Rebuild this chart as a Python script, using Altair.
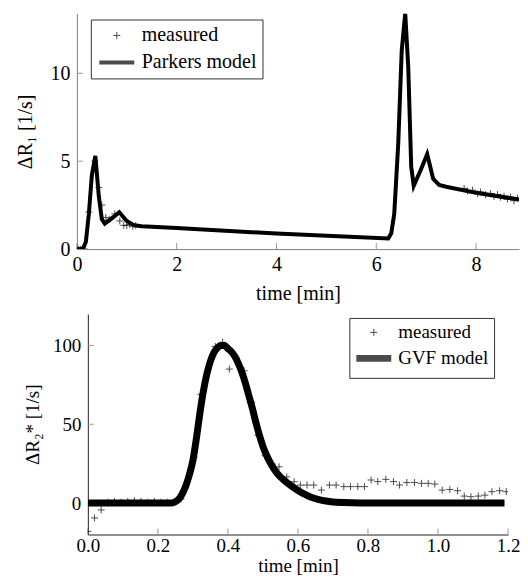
import altair as alt
import pandas as pd

FONT = "Liberation Serif, Times New Roman, serif"

# ---------- top panel: Parkers model ----------
top_meas_t = [0.03, 0.08, 0.16, 0.24, 0.36, 0.44, 0.50, 0.58, 0.66, 0.76, 0.86, 0.94, 1.00, 1.06, 1.12, 1.18,
              7.76, 7.83, 7.93, 8.03, 8.09, 8.19, 8.29, 8.36, 8.43, 8.49, 8.56, 8.63, 8.69, 8.76, 8.83, 8.89]
top_meas_y = [0, 0, 0, 2.1, 5.0, 3.5, 2.5, 1.8, 1.7, 2.0, 1.6, 1.35, 1.35, 1.4, 1.3, 1.35,
              3.45, 3.3, 3.35, 3.15, 3.25, 3.1, 3.15, 3.0, 3.1, 2.95, 3.0, 2.85, 2.95, 2.75, 2.9, 2.85]
top_model_t = [0, 0.12, 0.18, 0.24, 0.30, 0.37, 0.44, 0.50, 0.56, 0.70, 0.85, 1.00, 1.15, 1.30, 2.0, 4.0,
               6.24, 6.30, 6.36, 6.44, 6.51, 6.58, 6.64, 6.70, 6.75, 6.89, 7.02, 7.14, 7.26, 7.40, 8.0, 8.9]
top_model_y = [0, 0, 0.4, 2.0, 4.2, 5.3, 3.0, 1.7, 1.45, 1.75, 2.1, 1.6, 1.35, 1.3, 1.2, 0.88,
               0.6, 0.9, 2.0, 6.0, 11.3, 13.4, 10.4, 4.7, 3.6, 4.5, 5.4, 4.0, 3.65, 3.55, 3.2, 2.8]
top_xticks = [0, 2, 4, 6, 8]
top_yticks = [0, 5, 10]
top_labels = ["measured", "Parkers model"]

# ---------- bottom panel: GVF model ----------
bot_meas_t = [0.000, 0.019, 0.038, 0.057, 0.076, 0.095, 0.114, 0.133, 0.152, 0.171, 0.190, 0.209, 0.228,
              0.247, 0.266, 0.285, 0.304, 0.323, 0.342, 0.364, 0.385, 0.404, 0.423, 0.446, 0.468, 0.486,
              0.506, 0.527, 0.546, 0.568, 0.589, 0.607, 0.626, 0.645, 0.667, 0.690, 0.709, 0.731, 0.750,
              0.771, 0.790, 0.809, 0.828, 0.851, 0.873, 0.890, 0.911, 0.933, 0.953, 0.972, 0.991, 1.012,
              1.034, 1.056, 1.075, 1.094, 1.115, 1.134, 1.154, 1.176, 1.195]
bot_meas_y = [-18, -9.5, -4.4, 0.5, 1, 0.5, 1, 1.5, 1, 0.5, 1, 0.5, 0.5,
              0.5, 2.5, 14.6, 29, 69, 84, 99.4, 102, 85, 92.6, 84, 64, 43,
              30, 24.7, 23, 16.6, 13.5, 11.4, 11.4, 11.4, 8.2, 11.4, 11.4, 10.4, 10.4,
              10.4, 10.4, 14.6, 13.6, 15, 13.6, 11.4, 13, 13, 12.5, 12.5, 12, 8.2,
              8.6, 7.8, 4.4, 4, 4.4, 5, 7.2, 7.8, 7.2]
gvf_t = [0, 0.24, 0.25, 0.26, 0.27, 0.28, 0.29, 0.30, 0.31, 0.32, 0.33, 0.34, 0.35, 0.36, 0.37, 0.38,
         0.39, 0.40, 0.41, 0.42, 0.43, 0.44, 0.45, 0.46, 0.47, 0.48, 0.49, 0.50, 0.51, 0.52, 0.54,
         0.56, 0.58, 0.60, 0.62, 0.64, 0.66, 0.68, 0.70, 0.73, 0.78, 1.19]
gvf_y = [0, 0, 0.8, 2.5, 6, 11, 18, 27, 41, 57, 71, 82, 90, 95.5, 98.5, 100,
         100, 98, 96, 93, 88.5, 83, 76, 68, 60, 51, 43, 36, 30.5, 26, 19,
         14.5, 11, 8, 5.5, 3.5, 2.2, 1.3, 0.7, 0.3, 0.05, 0]
bot_xticks = [0, 0.2, 0.4, 0.6, 0.8, 1.0, 1.2]
bot_yticks = [0, 50, 100]
bot_labels = ["measured", "GVF model"]

PLUS = "M-1,0L1,0M0,-1L0,1"
DASH = "M-5,0L5,0"


def panel(meas_t, meas_y, mod_t, mod_y, labels, xdom, ydom, w, h, xticks, yticks, ytitle,
          model_sw, lx, ly, fs, lfs, dom_color, interp, row_pad, leg_pad,
          y_title_pad, left_extent, x_lab_pad, x_title_pad, x_title_fs):
    meas = pd.DataFrame({"t": meas_t, "y": meas_y, "series": labels[0]})
    mod = pd.DataFrame({"t": mod_t, "y": mod_y, "series": labels[1]})
    xt = pd.DataFrame({"t": xticks})
    yt = pd.DataFrame({"y": yticks})

    xs = alt.Scale(domain=xdom, nice=False, zero=False)
    ys = alt.Scale(domain=ydom, nice=False, zero=False)
    xaxis = alt.Axis(values=xticks, ticks=False, tickSize=0, grid=False, labelFlush=False,
                     domainColor=dom_color, labelFont=FONT, labelFontSize=fs, labelColor="black",
                     titleFont=FONT, titleFontSize=x_title_fs, titleFontWeight="normal",
                     titleColor="black", labelPadding=x_lab_pad, titlePadding=x_title_pad)
    yaxis = alt.Axis(values=yticks, ticks=False, tickSize=0, grid=False,
                     domainColor=dom_color, labelFont=FONT, labelFontSize=fs, labelColor="black",
                     titleFont=FONT, titleFontSize=fs, titleFontWeight="normal", titleColor="black",
                     labelPadding=7, titlePadding=y_title_pad)
    X = alt.X("t:Q", scale=xs, axis=xaxis, title="time [min]")
    Y = alt.Y("y:Q", scale=ys, axis=yaxis, title=ytitle)

    leg = alt.Legend(title=None, orient="none", legendX=lx, legendY=ly, labelFont=FONT,
                     labelFontSize=lfs, labelColor="black", strokeColor="#333", fillColor="white",
                     padding=leg_pad, symbolSize=49, symbolStrokeColor="black", symbolOffset=10,
                     labelOffset=15, rowPadding=row_pad, symbolFillColor="transparent")
    shape = alt.Shape("series:N", scale=alt.Scale(domain=labels, range=[PLUS, DASH]), legend=leg)
    sw = alt.StrokeWidth("series:N", scale=alt.Scale(type="ordinal", domain=labels, range=[1, model_sw]),
                         legend=leg)

    line = alt.Chart(mod).mark_line(color="black", clip=True, interpolate=interp).encode(
        x=X, y=Y, strokeWidth=sw)
    pts = alt.Chart(meas).mark_point(color="black", filled=False, size=49, clip=True).encode(
        x=X, y=Y, shape=shape, strokeWidth=sw)
    xtick = alt.Chart(xt).mark_rule(color="#999", strokeWidth=1).encode(
        x=X, y=alt.value(h), y2=alt.value(h - 6))
    ytick = alt.Chart(yt).mark_rule(color="#999", strokeWidth=1).encode(
        y=Y, x=alt.value(0), x2=alt.value(6))
    layers = [xtick, ytick, line, pts]
    if left_extent:
        # invisible layout spacer that fixes the left extent of the panel
        pad = alt.Chart(yt).mark_rule(opacity=0).encode(
            x=alt.value(-left_extent), x2=alt.value(-left_extent + 1), y=alt.value(0), y2=alt.value(1))
        layers = [pad] + layers
    return alt.layer(*layers).properties(width=w, height=h)


top = panel(top_meas_t, top_meas_y, top_model_t, top_model_y, top_labels, [0, 8.86], [0, 13.4],
            443, 236, top_xticks, top_yticks, "ΔR₁ [1/s]", 4, 14, 6, 20, 20, "#808080", "linear",
            7, 6, 14, 69, 5, 10, 20)
bot = panel(bot_meas_t, bot_meas_y, gvf_t, gvf_y, bot_labels, [0, 1.2], [-20, 120],
            421, 221, bot_xticks, bot_yticks, "ΔR₂* [1/s]", 7, 262, 4, 19, 19, "#222", "monotone",
            1, 5, 10, 0, 2, 1, 19)

chart = alt.vconcat(top, bot, spacing=65, bounds="flush", center=True).properties(
    padding={"left": 0, "top": 5, "right": 0, "bottom": 0}
).configure_view(stroke=None).resolve_scale(shape="independent", strokeWidth="independent")

chart.save("out.html", embed_options={"renderer": "svg", "actions": False})
